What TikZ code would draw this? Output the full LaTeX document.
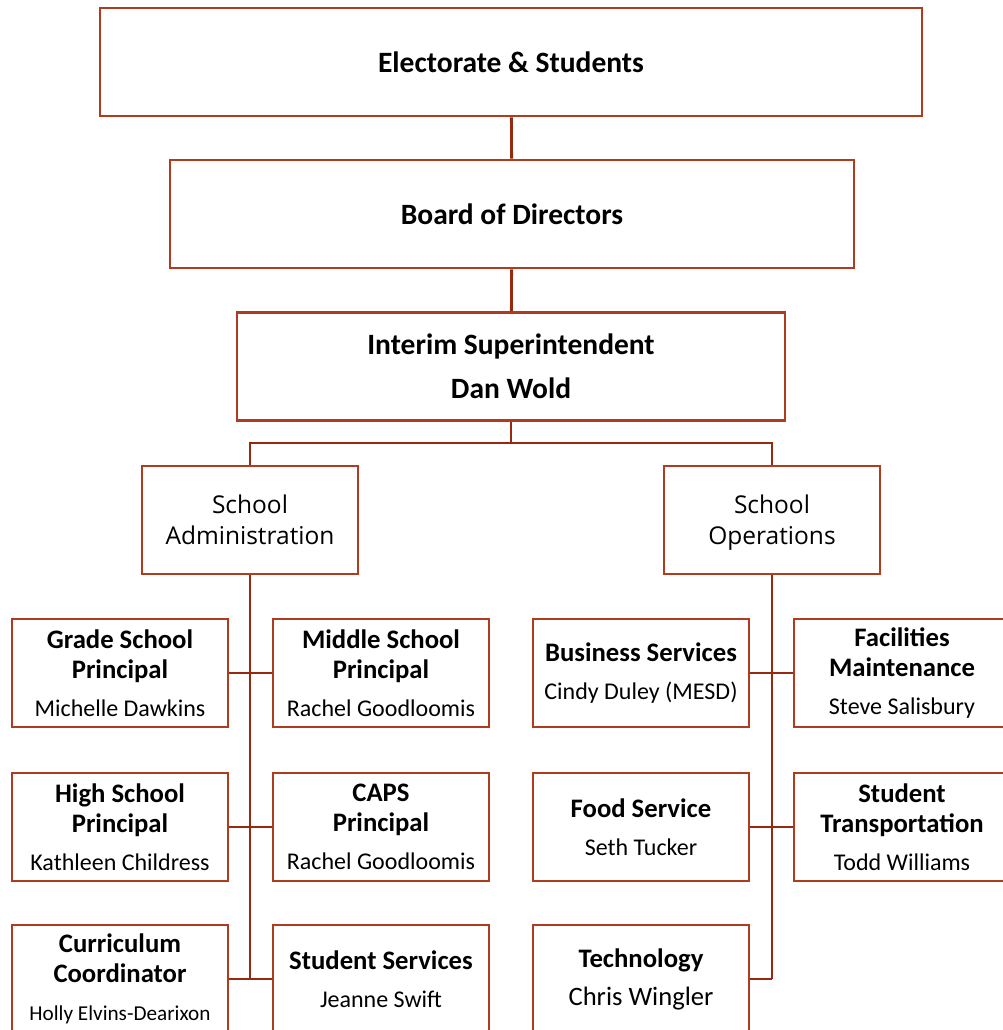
\documentclass[tikz,border=0pt]{standalone}
\usepackage{fontspec}
\setmainfont{Carlito}
\newfontfamily\segoe{Open Sans}
\definecolor{rust}{RGB}{176,60,32}
\definecolor{rustdark}{RGB}{150,42,16}
\newcommand{\who}[1]{{\mdseries\fontsize{24}{28}\selectfont #1}}
\begin{document}
\begin{tikzpicture}[x=1pt, y=-1pt,
	box/.style={draw=rust, line width=2.8pt, fill=white, align=center, inner sep=0pt, minimum width=216pt, minimum height=108pt,
		font=\bfseries\fontsize{26.7}{30}\selectfont},
	topbox/.style={box, font=\bfseries\fontsize{29.5}{34}\selectfont},
	groupbox/.style={box, text depth=0pt, font=\segoe\fontsize{24.5}{31}\selectfont},
	link/.style={draw=rustdark, line width=2.8pt}]
	\useasboundingbox (0,0) rectangle (1002,1030);

	\node [topbox, minimum width=822pt] (elect) at (511,62) {Electorate \& Students};
	\node [topbox, minimum width=684pt] (board) at (512,214) {Board of Directors};
	\node [topbox, minimum width=548pt] (iss) at (511,366.5) {Interim Superintendent\\[10pt]Dan Wold};

	\node [groupbox] (admin) at (250,520) {School\\Administration};
	\node [groupbox] (ops) at (772,520) {School\\Operations};

	% left column
	\node [box] (grade) at (120,673) {Grade School\\Principal\\[8pt]\who{Michelle Dawkins}};
	\node [box] (middle) at (381,673) {Middle School\\Principal\\[8pt]\who{Rachel Goodloomis}};
	\node [box] (high) at (120,827) {High School\\Principal\\[8pt]\who{Kathleen Childress}};
	\node [box] (caps) at (381,827) {CAPS\\Principal\\[8pt]\who{Rachel Goodloomis}};
	\node [box] (curr) at (120,979) {Curriculum\\Coordinator\\[8pt]{\mdseries\fontsize{21.2}{24}\selectfont Holly Elvins-Dearixon}};
	\node [box] (stud) at (381,979) {Student Services\\[8pt]\who{Jeanne Swift}};

	% right column
	\node [box] (bus) at (641,673) {Business Services\\[8pt]\who{Cindy Duley (MESD)}};
	\node [box] (fac) at (902,673) {Facilities\\Maintenance\\[8pt]\who{Steve Salisbury}};
	\node [box] (food) at (641,827) {Food Service\\[8pt]\who{Seth Tucker}};
	\node [box] (trans) at (902,827) {Student\\Transportation\\[8pt]\who{Todd Williams}};
	\node [box] (tech) at (641,979) {Technology\\[8pt]{\mdseries\fontsize{26.6}{30}\selectfont Chris Wingler}};

	\coordinate (split) at (511,443);
	\coordinate (lend) at (250,979);
	\coordinate (rend) at (772,979);

	\draw [link] (elect) -- (board);
	\draw [link] (board) -- (iss);
	\draw [link] (iss.south) -- (split);
	\draw [link] (admin.north) |- (split) -| (ops.north);

	\draw [link] (admin.south) -- (lend);
	\draw [link] (grade) -- (middle);
	\draw [link] (high) -- (caps);
	\draw [link] (curr) -- (stud);

	\draw [link] (ops.south) -- (rend);
	\draw [link] (bus) -- (fac);
	\draw [link] (food) -- (trans);
	\draw [link] (tech) -- (rend);
\end{tikzpicture}
\end{document}
